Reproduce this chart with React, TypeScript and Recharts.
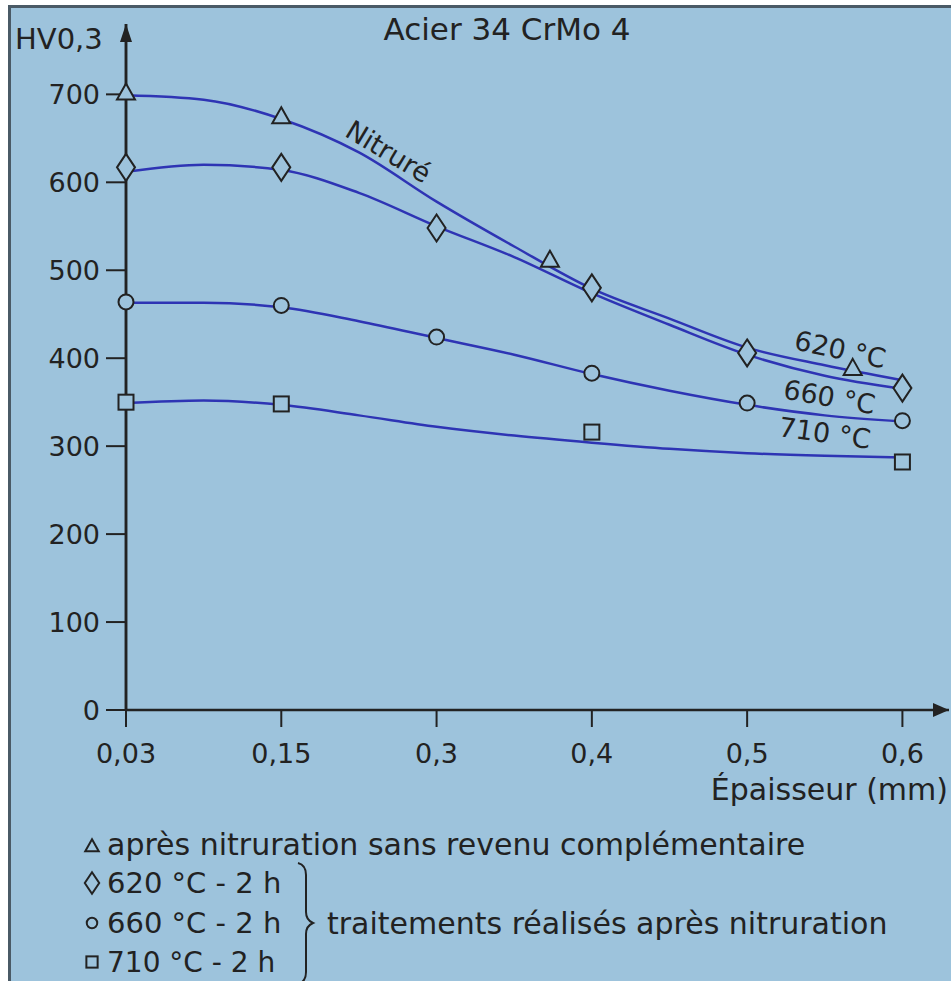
import React from "react";
import {
  ComposedChart,
  Line,
  Scatter,
  XAxis,
  YAxis,
  ReferenceDot,
  ReferenceLine,
} from "recharts";

// axis ticks (x is an evenly spaced scale, not proportional to the mm value)
const xTickPos = [0, 1, 2, 3, 4, 5];
const xTickLabels = ["0,03", "0,15", "0,3", "0,4", "0,5", "0,6"];
const yTicks = [0, 100, 200, 300, 400, 500, 600, 700];

// measured points
const nitrurePts = [
  { x: 0, y: 702 },
  { x: 1, y: 675 },
  { x: 2.73, y: 512 },
  { x: 4.68, y: 389 },
];
const r620Pts = [
  { x: 0, y: 617 },
  { x: 1, y: 617 },
  { x: 2, y: 548 },
  { x: 3, y: 480 },
  { x: 4, y: 406 },
  { x: 5, y: 366 },
];
const r660Pts = [
  { x: 0, y: 464 },
  { x: 1, y: 460 },
  { x: 2, y: 424 },
  { x: 3, y: 383 },
  { x: 4, y: 349 },
  { x: 5, y: 329 },
];
const r710Pts = [
  { x: 0, y: 350 },
  { x: 1, y: 348 },
  { x: 3, y: 316 },
  { x: 5, y: 282 },
];

// fitted curves
const curveX = [0, 0.5, 1, 1.5, 2, 2.5, 3, 3.5, 4, 4.5, 5];
const nitrureCurve = [699, 694, 672, 634, 578, 527, 479, 445, 412, 392, 375];
const r620Curve = [612, 620, 614, 588, 550, 515, 474, 438, 404, 380, 365];
const r660Curve = [463, 463, 458, 442, 423, 404, 382, 363, 347, 335, 328];
const r710Curve = [349, 352, 347, 335, 322, 312, 304, 297, 292, 289, 287];

const toSeries = (ys: number[]) => ys.map((y, i) => ({ x: curveX[i], y }));

const BG = "#9dc3dc";
const INK = "#222";
const LINE = "#2e34b4";
const FONT = "DejaVu Sans";

const Triangle = ({ cx, cy, s = 1 }: any) => (
  <path
    d={`M${cx},${cy - 9 * s} L${cx + 9 * s},${cy + 7 * s} L${cx - 9 * s},${cy + 7 * s} Z`}
    fill={BG}
    stroke={INK}
    strokeWidth={2}
  />
);
const Diamond = ({ cx, cy, s = 1 }: any) => (
  <path
    d={`M${cx},${cy - 13.5 * s} L${cx + 9 * s},${cy} L${cx},${cy + 13.5 * s} L${cx - 9 * s},${cy} Z`}
    fill={BG}
    stroke={INK}
    strokeWidth={2}
  />
);
const Circle = ({ cx, cy, s = 1 }: any) => (
  <circle cx={cx} cy={cy} r={7.5 * s} fill={BG} stroke={INK} strokeWidth={2} />
);
const Square = ({ cx, cy, s = 1 }: any) => (
  <rect x={cx - 7.5 * s} y={cy - 7.5 * s} width={15 * s} height={15 * s} fill={BG} stroke={INK} strokeWidth={2} />
);

const label = (text: string, angle: number) => (p: any) => (
  <text
    x={p.cx}
    y={p.cy}
    textAnchor="middle"
    dominantBaseline="central"
    transform={`rotate(${angle} ${p.cx} ${p.cy})`}
    fontFamily={FONT}
    fontSize={27}
    fill={INK}
  >
    {text}
  </text>
);

const arrowRight = (p: any) => (
  <path d={`M${p.cx},${p.cy} L${p.cx - 16},${p.cy - 7} L${p.cx - 16},${p.cy + 7} Z`} fill={INK} />
);
const arrowUp = (p: any) => (
  <path d={`M${p.cx},${p.cy} L${p.cx - 6},${p.cy + 18} L${p.cx + 6},${p.cy + 18} Z`} fill={INK} />
);

const XTick = ({ x, y, payload }: any) => (
  <text x={x} y={y} dy="0.71em" textAnchor="middle" fontFamily={FONT} fontSize={27} fill={INK}>
    {xTickLabels[payload.value]}
  </text>
);

export default function App() {
  const textStyle = { fontFamily: FONT, fill: INK };
  return (
    <div style={{ position: "absolute", left: 0, top: 0, width: 951, height: 981, background: "#fff" }}>
      <div
        style={{
          position: "absolute",
          left: 8,
          top: 5,
          right: 0,
          bottom: 0,
          background: BG,
          borderLeft: "3px solid #4a5a66",
          borderTop: "3px solid #4a5a66",
        }}
      />
      <div style={{ position: "absolute", left: 0, top: 0 }}>
        <ComposedChart width={951} height={981} margin={{ top: 24, right: 2, bottom: 211, left: 0 }}>
          <XAxis
            type="number"
            dataKey="x"
            domain={[0, 5.3]}
            ticks={xTickPos}
            tick={<XTick />}
            tickSize={17}
            tickMargin={17}
            axisLine={{ stroke: INK, strokeWidth: 2.5 }}
            tickLine={{ stroke: INK, strokeWidth: 2 }}
            height={60}
          />
          <YAxis
            type="number"
            dataKey="y"
            domain={[0, 780]}
            ticks={yTicks}
            width={126}
            tickSize={20}
            tickMargin={6}
            tick={{ fontFamily: FONT, fontSize: 27, fill: INK }}
            axisLine={{ stroke: INK, strokeWidth: 2.5 }}
            tickLine={{ stroke: INK, strokeWidth: 2 }}
          />
          <Line data={toSeries(nitrureCurve)} dataKey="y" type="monotone" stroke={LINE} strokeWidth={2.5} dot={false} isAnimationActive={false} />
          <Line data={toSeries(r620Curve)} dataKey="y" type="monotone" stroke={LINE} strokeWidth={2.5} dot={false} isAnimationActive={false} />
          <Line data={toSeries(r660Curve)} dataKey="y" type="monotone" stroke={LINE} strokeWidth={2.5} dot={false} isAnimationActive={false} />
          <Line data={toSeries(r710Curve)} dataKey="y" type="monotone" stroke={LINE} strokeWidth={2.5} dot={false} isAnimationActive={false} />
          <Scatter data={nitrurePts} dataKey="y" shape={(p: any) => <Triangle cx={p.cx} cy={p.cy} />} isAnimationActive={false} />
          <Scatter data={r620Pts} dataKey="y" shape={(p: any) => <Diamond cx={p.cx} cy={p.cy} />} isAnimationActive={false} />
          <Scatter data={r660Pts} dataKey="y" shape={(p: any) => <Circle cx={p.cx} cy={p.cy} />} isAnimationActive={false} />
          <Scatter data={r710Pts} dataKey="y" shape={(p: any) => <Square cx={p.cx} cy={p.cy} />} isAnimationActive={false} />
          <ReferenceLine x={0} stroke={INK} strokeWidth={2.5} ifOverflow="visible" />
          <ReferenceDot x={1.69} y={635} ifOverflow="visible" shape={label("Nitruré", 31)} />
          <ReferenceDot x={4.6} y={410} ifOverflow="visible" shape={label("620 °C", 12)} />
          <ReferenceDot x={4.53} y={356} ifOverflow="visible" shape={label("660 °C", 10)} />
          <ReferenceDot x={4.5} y={315} ifOverflow="visible" shape={label("710 °C", 8)} />
          <ReferenceDot x={5.3} y={0} ifOverflow="visible" shape={arrowRight} />
          <ReferenceDot x={0} y={780} ifOverflow="visible" shape={arrowUp} />
        </ComposedChart>
      </div>
      <svg width={951} height={981} style={{ position: "absolute", left: 0, top: 0, pointerEvents: "none" }}>
        <text x={507} y={29} textAnchor="middle" dominantBaseline="central" fontSize={31} {...textStyle}>
          Acier 34 CrMo 4
        </text>
        <text x={15} y={39} dominantBaseline="central" fontSize={29} {...textStyle}>
          HV0,3
        </text>
        <text x={948} y={789} textAnchor="end" dominantBaseline="central" fontSize={30} {...textStyle}>
          Épaisseur (mm)
        </text>
        <Triangle cx={92} cy={846} s={0.75} />
        <Diamond cx={92} cy={883} s={0.8} />
        <Circle cx={92} cy={923} s={0.7} />
        <Square cx={92} cy={962} s={0.75} />
        <text x={107} y={844} dominantBaseline="central" fontSize={30} {...textStyle}>
          après nitruration sans revenu complémentaire
        </text>
        <text x={107} y={883} dominantBaseline="central" fontSize={29} {...textStyle}>
          620 °C - 2 h
        </text>
        <text x={107} y={923} dominantBaseline="central" fontSize={29} {...textStyle}>
          660 °C - 2 h
        </text>
        <text x={107} y={962} dominantBaseline="central" fontSize={28} {...textStyle}>
          710 °C - 2 h
        </text>
        <path
          d="M298,863 Q306,865 306,875 L306,912 Q306,920 313,923 Q306,926 306,934 L306,972 Q306,982 298,984"
          fill="none"
          stroke={INK}
          strokeWidth={2}
        />
        <text x={327} y={923} dominantBaseline="central" fontSize={30} {...textStyle}>
          traitements réalisés après nitruration
        </text>
      </svg>
    </div>
  );
}
